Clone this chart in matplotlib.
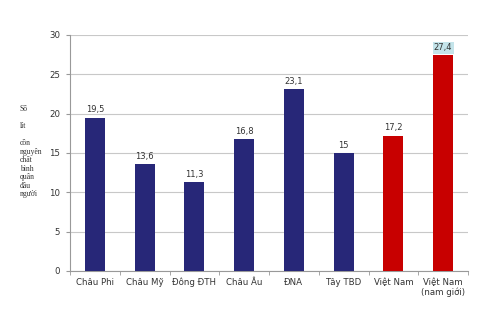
import numpy as np
import matplotlib.pyplot as plt

# Consumption of pure alcohol per capita by region
regions = ['Châu Phi', 'Châu Mỹ', 'Đông ĐTH', 'Châu Âu', 'ĐNA', 'Tây TBD',
           'Việt Nam', 'Việt Nam\n(nam giới)']
values = [19.5, 13.6, 11.3, 16.8, 23.1, 15.0, 17.2, 27.4]
value_labels = ['19,5', '13,6', '11,3', '16,8', '23,1', '15', '17,2', '27,4']
bar_colors = ['#272778'] * 6 + ['#C80000'] * 2

fig = plt.figure(figsize=(5, 3.24), dpi=100)
ax = fig.add_axes([0.14, 0.164, 0.796, 0.728])

x = np.arange(len(regions))
ax.bar(x, values, width=0.4, color=bar_colors, zorder=3)

for i, (v, lab) in enumerate(zip(values, value_labels)):
    box = None
    if i == len(values) - 1:
        box = dict(boxstyle='square,pad=0.15', fc='#C4E4EA', ec='none')
    ax.text(i, v + 0.4, lab, ha='center', va='bottom', fontsize=6,
            color='#333333', bbox=box, zorder=4)

ax.set_xlim(-0.5, len(regions) - 0.5)
ax.set_ylim(0, 30)
ax.set_yticks(np.arange(0, 31, 5))
ax.yaxis.grid(True, color='#c8c8c8', linewidth=0.8, zorder=0)

ax.set_xticks(x)
ax.set_xticklabels(regions, fontsize=6.2, color='#333333', linespacing=1.1)
ax.set_xticks(np.arange(-0.5, len(regions)), minor=True)
ax.tick_params(axis='x', which='major', length=0, pad=5)
ax.tick_params(axis='x', which='minor', length=3, color='#999999')
ax.tick_params(axis='y', labelsize=6.2, labelcolor='#333333', length=3,
               color='#999999', pad=4)

for side in ['top', 'right']:
    ax.spines[side].set_visible(False)
for side in ['left', 'bottom']:
    ax.spines[side].set_color('#999999')
    ax.spines[side].set_linewidth(0.8)

ylabel = 'Số\n\nlít\n\ncồn\nnguyên\nchất\nbình\nquân\nđầu\nngười'
fig.text(0.04, 0.675, ylabel, ha='left', va='top', fontsize=5.5,
         family='Liberation Serif', color='#333333', linespacing=1.08)

fig.savefig('out.png', dpi=100)
